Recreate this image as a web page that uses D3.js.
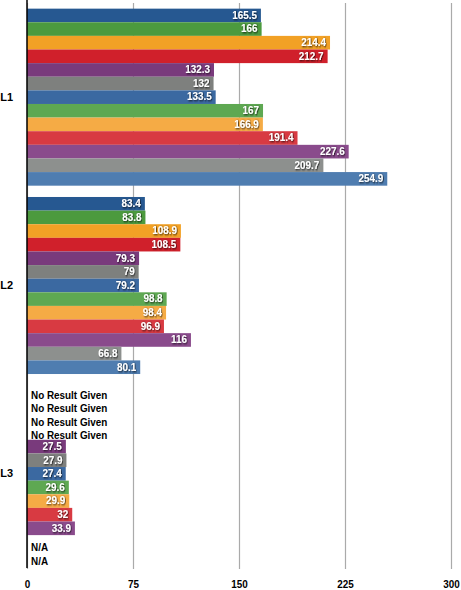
<!DOCTYPE html>
<html><head><meta charset="utf-8">
<script src="https://cdn.jsdelivr.net/npm/d3@7"></script>
<style>body{margin:0;background:#fff}svg{display:block}text{font-family:"Liberation Sans",Arial,sans-serif;font-weight:bold}</style>
</head><body><svg id="c" width="461" height="590"></svg>
<script>
const categories = ["L1", "L2", "L3"];
const seriesColors = ["#265891","#4c9a3e","#f2a125","#d0202b","#793a7c","#7e807e","#3b69a1","#5ea852","#f5ab45","#d83a42","#8a4b8c","#8d908e","#4f7db0"];
const l1Values = [165.5, 166, 214.4, 212.7, 132.3, 132, 133.5, 167, 166.9, 191.4, 227.6, 209.7, 254.9];
const l2Values = [83.4, 83.8, 108.9, 108.5, 79.3, 79, 79.2, 98.8, 98.4, 96.9, 116, 66.8, 80.1];
const l3Values = [null, null, null, null, 27.5, 27.9, 27.4, 29.6, 29.9, 32, 33.9, null, null];
const l3Missing = ["No Result Given","No Result Given","No Result Given","No Result Given",null,null,null,null,null,null,null,"N/A","N/A"];
const xTicks = [0, 75, 150, 225, 300];

const missingShift = {"No Result Given": 2.5, "N/A": 5.5};
const groups = [
  {cat:"L1", values:l1Values, missing:l1Values.map(()=>null)},
  {cat:"L2", values:l2Values, missing:l2Values.map(()=>null)},
  {cat:"L3", values:l3Values, missing:l3Missing}
];

const svg = d3.select("#c");
const x = d3.scaleLinear().domain([0,300]).range([27,451]);
const y = d3.scaleBand().domain(categories).range([3,568]).paddingInner(0.06).paddingOuter(0.03);
const yi = d3.scaleBand().domain(d3.range(seriesColors.length)).range([0,y.bandwidth()]);
const FS = "11px", SX = 0.9;

const defs = svg.append("defs");
const f = defs.append("filter").attr("id","sh").attr("x","-20%").attr("y","-40%").attr("width","140%").attr("height","180%");
f.append("feDropShadow").attr("dx",0.8).attr("dy",0.8).attr("stdDeviation",0.8).attr("flood-color","#000").attr("flood-opacity",0.85);

// grid
const xAxis = d3.axisBottom(x).tickValues(xTicks).tickSize(565).tickFormat(d=>d);
const gx = svg.append("g").attr("transform","translate(0,3)").call(xAxis);
gx.select(".domain").remove();
gx.selectAll(".tick line").attr("stroke","#aaa").attr("stroke-width",1.2).attr("y2",566);
gx.selectAll(".tick text").attr("fill","#000").attr("font-size",FS).attr("y",577).attr("dy","0.71em")
  .attr("transform",`scale(${SX},1)`).attr("font-family","Liberation Sans, Arial, sans-serif").attr("font-weight","bold");

// bars
groups.forEach(g=>{
  const gg = svg.append("g").attr("transform",`translate(0,${y(g.cat)})`);
  g.values.forEach((v,i)=>{
    if(v!=null){
      gg.append("rect").attr("x",x(0)).attr("y",yi(i)).attr("width",x(v)-x(0)).attr("height",yi.bandwidth()).attr("fill",seriesColors[i]);
    }
  });
  g.values.forEach((v,i)=>{
    const cy = yi(i)+yi.bandwidth()/2;
    if(v!=null){
      gg.append("text").attr("transform",`translate(${x(v)-4},${cy}) scale(${SX},1)`).attr("dy","0.3em")
        .attr("text-anchor","end").attr("fill","#fff").attr("font-size",FS).attr("filter","url(#sh)").text(v);
    } else if(g.missing[i]){
      gg.append("text").attr("transform",`translate(${x(0)+4},${cy + (missingShift[g.missing[i]]||0)}) scale(${SX},1)`).attr("dy","0.36em")
        .attr("text-anchor","start").attr("fill","#000").attr("font-size",FS).text(g.missing[i]);
    }
  });
});

// left axis
const yAxis = d3.axisLeft(y).tickSize(0).tickPadding(14);
const gy = svg.append("g").attr("transform",`translate(${x(0)},0)`).call(yAxis);
gy.select(".domain").remove();
svg.append("line").attr("x1",x(0)).attr("x2",x(0)).attr("y1",0).attr("y2",568).attr("stroke","#000").attr("stroke-width",1.5);
gy.selectAll(".tick text").attr("fill","#000").attr("font-size",FS).attr("font-family","Liberation Sans, Arial, sans-serif").attr("font-weight","bold");
</script></body></html>
